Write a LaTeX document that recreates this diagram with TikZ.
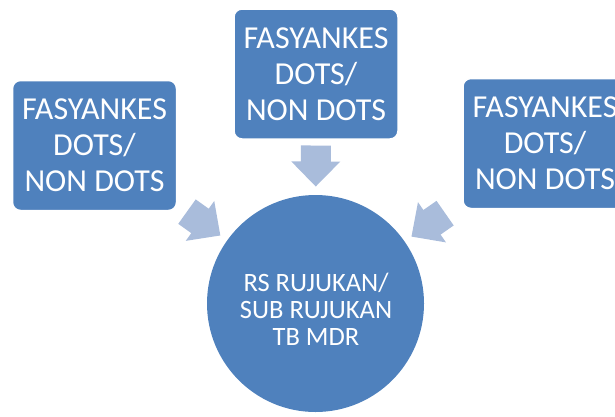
\documentclass[tikz,border=0pt]{standalone}
\usepackage{fontspec}
\setmainfont{Carlito}
\usetikzlibrary{calc,backgrounds}
\definecolor{boxblue}{HTML}{4F81BD}
\definecolor{arrowblue}{HTML}{A9BCDB}
\newcommand\blkarrow[3]{%
  \coordinate (#1t) at ($(#3.center)!158pt!(#2.center)$);
  \coordinate (#1p) at ($(#3.center)!117pt!(#2.center)$);
  \coordinate (#1b) at ($(#1p)!25pt!(#1t)$);
  \fill[blk] ($(#1t)!15pt!90:(#1p)$) -- ($(#1b)!15pt!90:(#1p)$) -- ($(#1b)!24.5pt!90:(#1p)$)
    -- (#1p) -- ($(#1b)!24.5pt!-90:(#1p)$) -- ($(#1b)!15pt!-90:(#1p)$) -- ($(#1t)!15pt!-90:(#1p)$) -- cycle;
}
\begin{document}
\begin{tikzpicture}[x=1pt,y=-1pt,
  srcbox/.style={rectangle, rounded corners=8pt, fill=boxblue, draw=white, line width=1.5pt,
    minimum width=164pt, minimum height=130pt, text=white, align=center,
    font=\fontsize{32}{36}\selectfont, inner sep=0pt},
  hub/.style={circle, fill=boxblue, minimum size=217pt, inner sep=0pt},
  hubtext/.style={text=white, align=center, font=\fontsize{26.5}{27}\selectfont, inner sep=0pt},
  blk/.style={fill=arrowblue}]
\useasboundingbox (0,0) rectangle (615,416);
\clip (0,0) rectangle (615,416);
\node[hub] (C) at (315.5,303.5) {};
\node[hubtext] (Ct) at (316,309) {RS RUJUKAN/\\SUB RUJUKAN\\TB MDR};
\node[srcbox] (L) at (94.5,145.5) {FASYANKES\\DOTS/\\NON DOTS};
\node[srcbox] (T) at (316,74) {FASYANKES\\DOTS/\\NON DOTS};
\node[srcbox] (R) at (545,143.5) {FASYANKES\\DOTS/\\NON DOTS};
\begin{scope}[on background layer]
  \blkarrow{al}{L}{C}
  \blkarrow{at}{T}{C}
  \blkarrow{ar}{R}{C}
\end{scope}
\end{tikzpicture}
\end{document}
